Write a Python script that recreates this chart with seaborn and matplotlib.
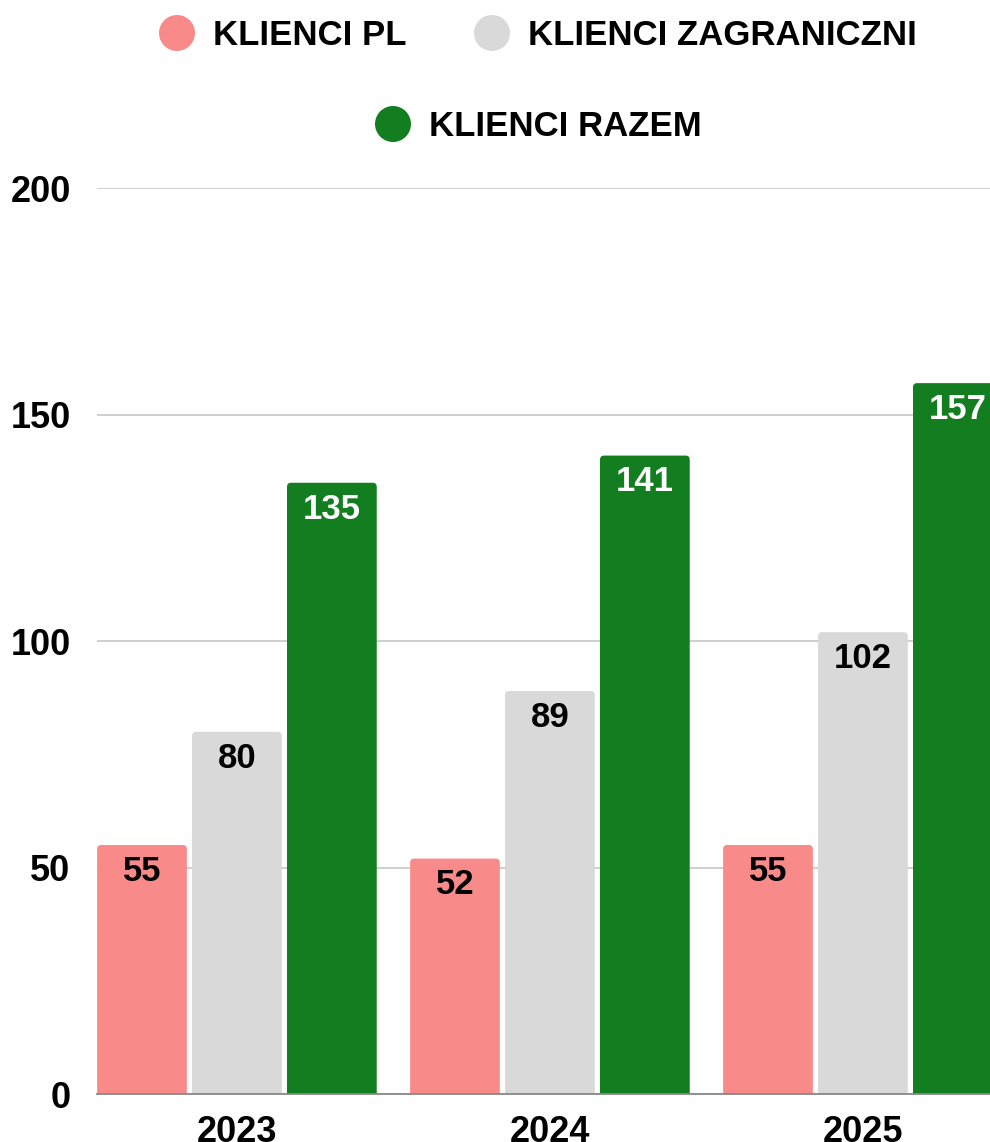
import seaborn as sns
import matplotlib.pyplot as plt
import pandas as pd
from matplotlib.patches import FancyBboxPatch, Ellipse

# Data
years = ['2023', '2024', '2025']
series = ['KLIENCI PL', 'KLIENCI ZAGRANICZNI', 'KLIENCI RAZEM']
klienci_pl = [55, 52, 55]
klienci_zagr = [80, 89, 102]
klienci_razem = [135, 141, 157]
colors = ['#F98A8A', '#D9D9D9', '#127E1F']
label_colors = ['black', 'black', 'white']

df = pd.DataFrame({
    'rok': years * 3,
    'seria': [s for s in series for _ in years],
    'klienci': klienci_pl + klienci_zagr + klienci_razem,
})

sns.set_style('white')
plt.rcParams['font.family'] = ['Liberation Sans', 'DejaVu Sans']

fig = plt.figure(figsize=(9.9, 11.42), dpi=100)
ax = fig.add_axes([0.098, 0.042, 0.902, 0.793])

sns.barplot(data=df, x='rok', y='klienci', hue='seria', hue_order=series,
            palette=colors, width=0.91, gap=0.055, saturation=1,
            legend=False, ax=ax)

ax.set_ylim(0, 200)
ax.set_xlim(-0.447, 2.406)
ax.set_yticks([0, 50, 100, 150, 200])
ax.yaxis.grid(True, color='#CCCCCC', linewidth=1.3)
ax.set_axisbelow(True)
for s in ['top', 'right', 'left']:
    ax.spines[s].set_visible(False)
ax.spines['bottom'].set_color('#888888')
ax.spines['bottom'].set_linewidth(1.3)
ax.set_xlabel('')
ax.set_ylabel('')
ax.tick_params(axis='both', length=0, labelsize=26, labelcolor='black')
ax.tick_params(axis='y', pad=19)
ax.tick_params(axis='x', pad=15)
for t in ax.get_xticklabels() + ax.get_yticklabels():
    t.set_fontweight('bold')

# rounded tops + value labels
bars = list(ax.patches)
for i, p in enumerate(bars):
    x, y, w, h = p.get_x(), p.get_y(), p.get_width(), p.get_height()
    fc = p.get_facecolor()
    p.remove()
    rp = FancyBboxPatch((x, -3), w, h + 3,
                        boxstyle='round,pad=0,rounding_size=0.013',
                        mutation_aspect=69, facecolor=fc, edgecolor='none',
                        clip_on=True, zorder=2)
    ax.add_patch(rp)
    si = i // len(years)
    ax.annotate(f'{h:.0f}', (x + w / 2, h), xytext=(0, -19),
                textcoords='offset points', ha='center', va='center',
                fontsize=25, fontweight='bold', color=label_colors[si],
                zorder=3)

# legend drawn by hand (two rows, centered)
leg = [(177, 33, series[0], colors[0]),
       (492, 33, series[1], colors[1]),
       (393, 124, series[2], colors[2])]
for px, py, txt, c in leg:
    fx, fy = px / 990, 1 - py / 1142
    fig.patches.append(Ellipse((fx, fy), 36 / 990, 36 / 1142,
                               transform=fig.transFigure,
                               facecolor=c, edgecolor='none'))
    fig.text(fx + 36 / 990, fy - 12 / 1142, txt, ha='left', va='baseline',
             fontsize=25, fontweight='bold', color='black')

plt.savefig('out.png', dpi=100)
plt.close()
